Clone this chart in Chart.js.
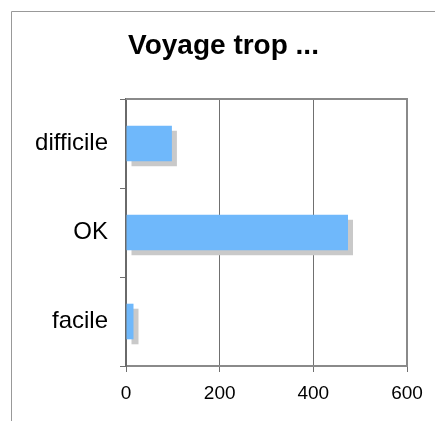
<!DOCTYPE html>
<html>
<head>
<meta charset="utf-8">
<script src="https://cdn.jsdelivr.net/npm/chart.js@4/dist/chart.umd.min.js"></script>
<style>
  html, body { margin: 0; padding: 0; background: #fff; }
  #wrap { width: 435px; height: 421px; }
</style>
</head>
<body>
<div id="wrap"><canvas id="c" width="435" height="421"></canvas></div>
<script>
// Survey answers: how the trip felt
const categories = ['difficile', 'OK', 'facile'];
const counts = [98, 474, 16];
const xTickMin = 0;
const xTickMax = 600;
const xTickStep = 200;
const chartTitle = 'Voyage trop ...';

const FONT = "'Liberation Sans', Arial, Helvetica, sans-serif";

// Thin page frame along the top and left edges
const pageFrame = {
  id: 'pageFrame',
  beforeDraw(chart) {
    const ctx = chart.ctx;
    ctx.save();
    ctx.strokeStyle = '#999';
    ctx.lineWidth = 1;
    ctx.beginPath();
    ctx.moveTo(11.5, chart.height);
    ctx.lineTo(11.5, 11.5);
    ctx.lineTo(chart.width, 11.5);
    ctx.stroke();
    ctx.restore();
  }
};

// Offset grey drop shadow under the bars
const barShadow = {
  id: 'barShadow',
  beforeDatasetsDraw(chart) {
    const ctx = chart.ctx;
    ctx.save();
    ctx.shadowColor = '#c9c9c9';
    ctx.shadowOffsetX = 5;
    ctx.shadowOffsetY = 5;
    ctx.shadowBlur = 0;
  },
  afterDatasetsDraw(chart) {
    chart.ctx.restore();
  }
};

// Top and right edges of the plot box
const plotBox = {
  id: 'plotBox',
  afterDraw(chart) {
    const { ctx, chartArea: a } = chart;
    ctx.save();
    ctx.strokeStyle = '#8a8a8a';
    ctx.lineWidth = 2;
    ctx.beginPath();
    ctx.moveTo(a.left, a.top);
    ctx.lineTo(a.right, a.top);
    ctx.lineTo(a.right, a.bottom);
    ctx.stroke();
    ctx.restore();
  }
};

new Chart(document.getElementById('c'), {
  type: 'bar',
  data: {
    labels: categories,
    datasets: [{
      data: counts,
      backgroundColor: '#6fb8fb',
      borderWidth: 0,
      categoryPercentage: 1.0,
      barPercentage: 0.4
    }]
  },
  options: {
    indexAxis: 'y',
    responsive: false,
    animation: false,
    devicePixelRatio: 1,
    layout: { padding: { left: 12, top: 12, right: 0, bottom: 0 } },
    plugins: {
      legend: { display: false },
      tooltip: { enabled: false },
      title: {
        display: true,
        text: chartTitle,
        color: '#000',
        font: { family: FONT, size: 28, weight: 'bold' },
        padding: { top: 17, bottom: 36.4 }
      }
    },
    scales: {
      x: {
        min: xTickMin,
        max: xTickMax,
        afterFit(scale) { scale.height = 55; },
        ticks: {
          stepSize: xTickStep,
          color: '#000',
          padding: 10,
          font: { family: FONT, size: 19 }
        },
        grid: {
          color: '#707070',
          lineWidth: 1,
          tickLength: 6,
          drawOnChartArea: true
        },
        border: { display: true, color: '#8a8a8a', width: 2 }
      },
      y: {
        afterFit(scale) { scale.width = 114; },
        ticks: {
          color: '#000',
          padding: 12,
          font: { family: FONT, size: 24 }
        },
        grid: {
          offset: true,
          drawOnChartArea: false,
          color: '#707070',
          tickLength: 6
        },
        border: { display: true, color: '#6a6a6a', width: 2 }
      },
      // empty margin strip to the right of the plot
      yRight: {
        position: 'right',
        afterFit(scale) { scale.width = 28; },
        ticks: { display: false },
        grid: { display: false },
        border: { display: false }
      }
    }
  },
  plugins: [pageFrame, barShadow, plotBox]
});
</script>
</body>
</html>
